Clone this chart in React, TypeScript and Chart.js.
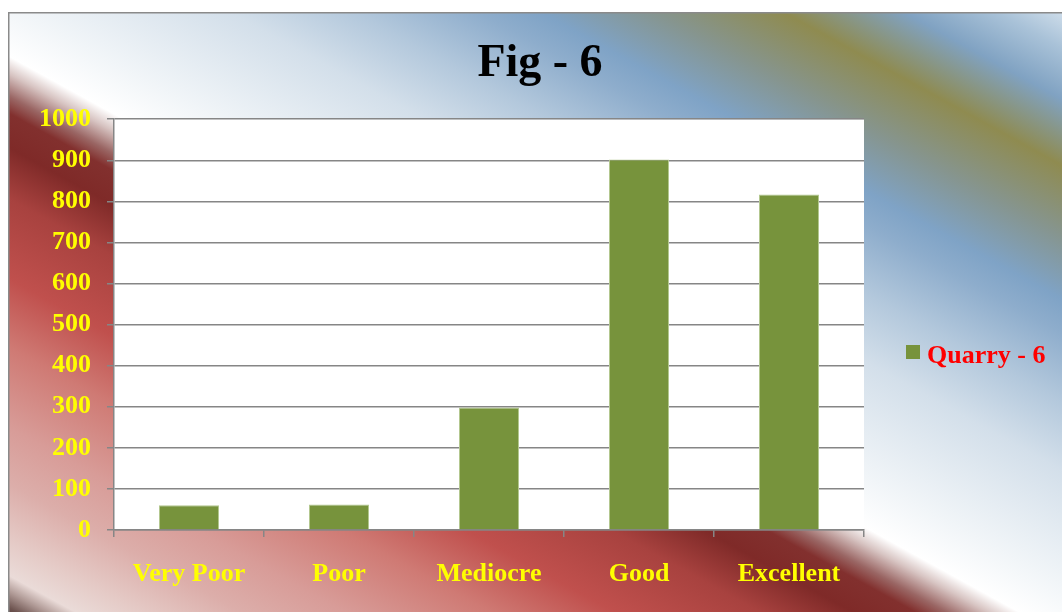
import React, { useEffect, useRef } from "react";
import { Chart, registerables } from "chart.js";

Chart.register(...registerables);

const categories = ["Very Poor", "Poor", "Mediocre", "Good", "Excellent"];
const quarryValues = [60, 62, 298, 902, 817];
const seriesLabel = "Quarry - 6";
const titleText = "Fig - 6";

const W = 1064;
const H = 610;
const FONT = "'Liberation Serif', 'Times New Roman', serif";

const bgPlugin = {
  id: "bgPlugin",
  beforeDraw(chart: any) {
    const ctx = chart.ctx;
    const nx = 0.482, ny = -0.876;
    const s0 = -540, s1 = 520;
    const ax = (s0 + 6.7) * nx, ay = (s0 + 6.7) * ny;
    const bx = (s1 + 6.7) * nx, by = (s1 + 6.7) * ny;
    const g = ctx.createLinearGradient(ax, ay, bx, by);
    const stops: [number, string][] = [
      [-540, "#4e3532"],
      [-528, "#6e5450"],
      [-514, "#b09a96"],
      [-500, "#eadbd8"],
      [-470, "#e5cbc7"],
      [-420, "#dcaeaa"],
      [-370, "#d89c98"],
      [-300, "#cf7a74"],
      [-240, "#c0504d"],
      [-170, "#a8423f"],
      [-125, "#7f2a28"],
      [-95, "#82302e"],
      [-80, "#9a6664"],
      [-60, "#d8c5c3"],
      [-45, "#ffffff"],
      [0, "#f1f5f8"],
      [100, "#d3dfea"],
      [160, "#b3c8dc"],
      [220, "#8eadcc"],
      [250, "#7fa3c6"],
      [305, "#86958f"],
      [367, "#8f8b50"],
      [425, "#80a2c2"],
      [470, "#a9c2d8"],
      [520, "#e3ecf4"],
    ];
    for (const [s, c] of stops) g.addColorStop((s - s0) / (s1 - s0), c);
    ctx.save();
    ctx.fillStyle = g;
    ctx.fillRect(0, 0, chart.width, chart.height);
    const a = chart.chartArea;
    ctx.fillStyle = "#ffffff";
    ctx.fillRect(a.left, a.top, a.right - a.left, a.bottom - a.top);
    ctx.strokeStyle = "#8a8a8a";
    ctx.lineWidth = 1.5;
    ctx.strokeRect(0.75, 0.75, chart.width, chart.height);
    ctx.restore();
  },
};

const legendPlugin = {
  id: "sideLegend",
  afterDraw(chart: any) {
    const ctx = chart.ctx;
    const a = chart.chartArea;
    const ds = chart.data.datasets[0];
    const bx = a.right + 42;
    const by = 333;
    ctx.save();
    ctx.fillStyle = ds.backgroundColor;
    ctx.fillRect(bx, by, 14, 14);
    ctx.fillStyle = "#ff0000";
    ctx.font = `bold 26px ${FONT}`;
    ctx.textBaseline = "alphabetic";
    ctx.textAlign = "left";
    ctx.fillText(ds.label, bx + 21, by + 18);
    ctx.restore();
  },
};

export default function App() {
  const ref = useRef<HTMLCanvasElement>(null);
  useEffect(() => {
    if (!ref.current) return;
    const chart = new Chart(ref.current, {
      type: "bar",
      data: {
        labels: categories,
        datasets: [
          {
            label: seriesLabel,
            data: quarryValues,
            backgroundColor: "#77933c",
            borderColor: "#b3c78f",
            borderWidth: 1,
            barPercentage: 0.4,
            categoryPercentage: 1,
          },
        ],
      },
      options: {
        responsive: false,
        animation: false,
        layout: { padding: 0 },
        plugins: {
          title: {
            display: true,
            text: titleText,
            color: "#000000",
            font: { family: FONT, size: 46, weight: "bold" },
            padding: { top: 25, bottom: 27 },
          },
          legend: { display: false },
          tooltip: { enabled: false },
        },
        scales: {
          x: {
            afterFit(scale: any) {
              scale.height = 92;
            },
            grid: {
              display: true,
              drawOnChartArea: false,
              offset: true,
              tickLength: 7,
              color: "#868686",
              lineWidth: 1.5,
            },
            border: { display: true, color: "#868686", width: 1.5 },
            ticks: {
              color: "#ffff00",
              font: { family: FONT, size: 26, weight: "bold" },
              padding: 22,
            },
          },
          y: {
            min: 0,
            max: 1000,
            afterFit(scale: any) {
              scale.width = 106;
            },
            grid: {
              color: "#868686",
              lineWidth: 1.5,
              tickLength: 7,
            },
            border: { display: true, color: "#868686", width: 1.5 },
            ticks: {
              stepSize: 100,
              color: "#ffff00",
              font: { family: FONT, size: 26, weight: "bold" },
              padding: 16,
              callback: (v: any) => String(v),
            },
          },
          legendSpace: {
            type: "linear",
            position: "right",
            display: true,
            afterFit(scale: any) {
              scale.width = 208;
            },
            grid: { display: false },
            border: { display: false },
            ticks: { display: false },
          },
        },
      },
      plugins: [bgPlugin, legendPlugin],
    });
    return () => chart.destroy();
  }, []);
  return (
    <div style={{ position: "fixed", left: 8, top: 12, width: W, height: H, overflow: "hidden" }}>
      <canvas ref={ref} width={W} height={H} style={{ display: "block" }} />
    </div>
  );
}
